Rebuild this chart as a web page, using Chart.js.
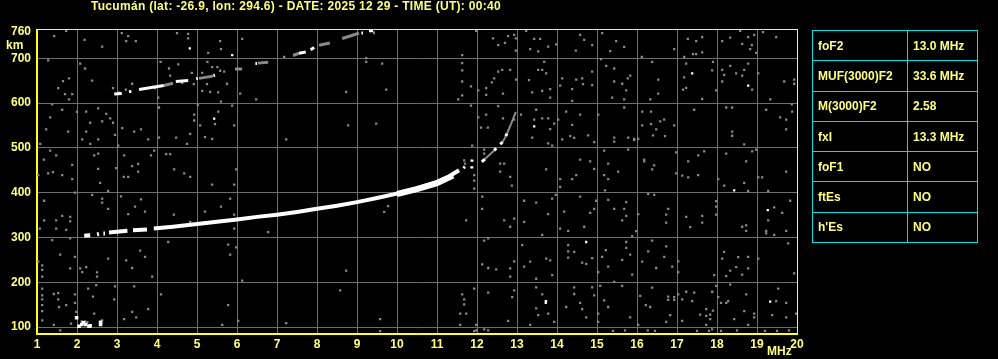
<!DOCTYPE html>
<html>
<head>
<meta charset="utf-8">
<script src="https://cdn.jsdelivr.net/npm/chart.js@4.4.1/dist/chart.umd.min.js"></script>
<style>
	html, body { margin: 0; padding: 0; background: #000; overflow: hidden; }
	#wrap { position: relative; width: 998px; height: 359px; }
	#chart { position: absolute; left: 0; top: 0; }
	.lbl { position: absolute; color: #ffff80; font: bold 12px "Liberation Sans", Arial, sans-serif; line-height: 14px; white-space: nowrap; }
	#title { left: 91px; top: -1px; letter-spacing: 0.3px; }
	#params { position: absolute; left: 812px; top: 30px; width: 166px; border-collapse: collapse; }
	#params td { border: 1px solid #00e0e8; height: 29.3px; padding: 0 0 0 5px; color: #ffff80; font: bold 12px "Liberation Sans", Arial, sans-serif; }
	#params td:first-child { width: 89px; }
</style>
</head>
<body>
<div id="wrap">
	<canvas id="chart" width="998" height="359"></canvas>
	<div class="lbl" id="title">Tucumán (lat: -26.9, lon: 294.6) - DATE: 2025 12 29 - TIME (UT): 00:40</div>
	<div class="lbl" style="left:6px; top:38px;">km</div>
	<div class="lbl" style="left:767px; top:344px;">MHz</div>
	<table id="params"></table>
</div>
<script>
// axis ticks
const freqTicks = [1, 2, 3, 4, 5, 6, 7, 8, 9, 10, 11, 12, 13, 14, 15, 16, 17, 18, 19, 20];
const heightTicks = [100, 200, 300, 400, 500, 600, 700, 760];

// scaled parameters box
const paramNames = ['foF2', 'MUF(3000)F2', 'M(3000)F2', 'fxI', 'foF1', 'ftEs', "h'Es"];
const paramValues = ['13.0 MHz', '33.6 MHz', '2.58', '13.3 MHz', 'NO', 'NO', 'NO'];

// F trace (first hop), [MHz, km], null = gap in the echo
const mainTrace = [
	[2.18, 304], [2.33, 305], null,
	[2.50, 307], [2.55, 308], null,
	[2.66, 309], [2.70, 309], null,
	[2.80, 311], [3.26, 315], null,
	[3.40, 316], [3.75, 318], null,
	[3.92, 320], [4.40, 324], [5.0, 330], [5.5, 335], [6.0, 340], [6.5, 346], [7.0, 351],
	[7.5, 357], [8.0, 364], [8.5, 371], [9.0, 379], [9.5, 388], [10.0, 398], [10.5, 410],
	[11.0, 424], [11.3, 436], [11.55, 450],
];
const mainTraceThick = [[10.0, 397], [10.5, 408], [11.0, 421], [11.4, 438]];

// steep part near foF2
const cuspWhite = [
	[11.66, 455], [11.70, 458], null,
	[11.87, 454], [11.87, 459], null,
	[11.87, 469], [11.88, 474], null,
	[12.12, 469], [12.20, 475], null,
	[12.43, 494], [12.48, 499], null,
	[12.58, 508], [12.64, 513], null,
	[12.72, 526], [12.75, 532],
];
const cuspGrey = [
	[12.20, 475], [12.43, 494], null,
	[12.64, 513], [12.72, 526], null,
	[12.75, 532], [12.85, 553], [12.97, 580],
];

// second hop trace
const upperWhite = [
	[2.93, 620], [3.12, 621], null,
	[3.30, 625], [3.36, 626], null,
	[3.55, 630], [4.17, 639], null,
	[4.47, 648], [4.78, 650], null,
	[4.98, 654], [5.02, 655], null,
	[5.41, 661], [5.45, 662], null,
	[6.46, 688], [6.50, 688], null,
	[7.55, 711], [7.72, 714], null,
	[7.84, 719], [7.93, 724], null,
	[9.11, 756], [9.15, 756], null,
	[9.30, 761], [9.40, 761],
];
const upperGrey = [
	[4.17, 639], [4.40, 644], null,
	[5.05, 655], [5.40, 660], null,
	[5.95, 676], [6.13, 676], null,
	[6.52, 689], [6.78, 691], null,
	[7.40, 706], [7.55, 711], null,
	[8.05, 729], [8.32, 734], null,
	[8.63, 744], [8.85, 750], [9.05, 756], null,
	[9.40, 757], [9.45, 757],
];

// low echo near 2 MHz
const eLayer = [[1.99, 121], [2.05, 102], [2.12, 106], [2.16, 110], [2.22, 106], [2.30, 102], [2.33, 103], [2.59, 106], [2.59, 111]];

// isolated strong dots
const whiteDots = [
	[4.82, 722], [5.43, 565], [5.88, 707], [13.43, 548], [14.73, 290], [17.38, 666],
	[18.78, 639], [18.43, 405], [19.27, 361], [19.33, 157], [13.72, 158], [13.72, 154],
];

// interference / noise
const noiseDots = [
	[1.43, 749], [1.73, 761], [2.19, 741], [2.63, 726], [3.12, 756], [3.28, 749], [3.23, 738], [3.47, 738],
	[4.50, 756], [4.78, 754], [4.78, 744], [5.28, 712], [5.58, 738], [5.60, 720], [1.28, 695], [1.65, 649],
	[1.80, 655], [1.53, 633], [1.70, 620], [1.88, 620], [1.80, 608], [2.08, 688], [2.20, 677], [2.38, 650],
	[2.90, 633], [3.38, 643], [3.22, 630], [3.05, 623], [4.09, 692], [4.30, 677], [4.53, 686], [4.33, 661],
	[4.63, 645], [4.87, 667], [5.13, 667], [5.26, 692], [5.38, 680], [5.51, 680], [5.58, 672], [5.68, 670],
	[5.25, 642], [4.92, 642], [5.13, 627], [5.33, 625], [5.53, 624], [5.60, 603], [3.95, 633], [4.03, 612],
	[1.38, 597], [1.33, 568], [1.63, 585], [1.23, 541], [1.78, 536], [2.00, 580], [2.23, 581], [2.53, 588],
	[2.33, 556], [2.63, 559], [2.73, 576], [2.83, 566], [2.90, 556], [2.95, 529], [2.23, 536], [2.13, 519],
	[2.33, 509], [2.53, 519], [3.13, 544], [3.43, 536], [3.60, 541], [3.78, 519], [4.05, 523], [4.05, 590],
	[4.48, 523], [4.75, 509], [4.83, 531], [4.93, 561], [4.93, 574], [5.02, 596], [5.08, 550], [5.20, 524],
	[5.38, 520], [5.45, 553], [5.53, 581], [1.08, 509], [3.03, 505], [1.33, 494], [1.48, 483], [1.17, 474],
	[1.88, 462], [1.28, 443], [1.40, 446], [1.63, 439], [1.88, 430], [2.43, 483], [2.53, 487], [2.53, 453],
	[2.58, 422], [2.78, 404], [2.98, 455], [3.18, 483], [3.38, 459], [3.53, 464], [3.53, 447], [3.17, 435],
	[3.28, 435], [3.85, 483], [3.93, 494], [4.23, 486], [4.33, 486], [4.43, 452], [4.68, 443], [4.83, 435],
	[5.38, 418], [1.03, 439], [1.18, 382], [1.18, 338], [1.48, 338], [1.48, 320], [1.63, 348], [1.73, 317],
	[1.83, 346], [1.83, 336], [1.07, 320], [1.95, 400], [2.38, 395], [2.63, 387], [2.63, 378], [2.78, 364],
	[3.10, 392], [3.28, 352], [3.45, 369], [3.60, 385], [3.70, 358], [4.42, 351], [4.83, 335], [5.20, 358],
	[5.60, 369], [1.38, 294], [1.58, 262], [1.83, 298], [1.95, 257], [1.03, 246], [1.13, 238], [1.13, 228],
	[1.13, 213], [1.83, 231], [2.08, 231], [2.23, 234], [2.13, 223], [2.50, 222], [2.50, 213], [2.78, 253],
	[3.23, 249], [3.38, 232], [3.58, 271], [3.70, 257], [3.88, 213], [4.28, 290], [2.95, 191], [1.13, 186],
	[1.13, 171], [1.13, 162], [1.13, 149], [1.13, 136], [1.13, 115], [1.42, 174], [1.53, 176], [1.53, 162],
	[1.55, 145], [1.73, 149], [1.95, 173], [1.95, 154], [1.98, 134], [2.28, 186], [2.40, 168], [2.48, 194],
	[2.43, 130], [2.93, 162], [3.43, 191], [3.38, 134], [3.48, 122], [3.78, 140], [4.10, 173], [3.18, 118],
	[1.85, 108], [2.63, 115], [1.42, 105], [1.58, 93], [5.63, 105], [2.12, 113], [2.20, 113], [2.26, 111],
	[6.13, 743], [7.18, 703], [9.23, 700], [9.23, 692], [9.63, 688], [5.75, 643], [6.08, 621], [6.48, 608],
	[8.73, 625], [9.73, 630], [5.88, 594], [5.93, 550], [7.23, 519], [8.78, 550], [9.48, 554], [5.98, 452],
	[5.93, 418], [5.83, 387], [5.93, 351], [5.93, 320], [6.78, 312], [9.68, 357], [9.78, 370], [5.78, 284],
	[5.83, 262], [5.98, 278], [6.13, 204], [8.73, 226], [8.58, 182], [5.78, 149], [6.03, 114], [7.23, 109],
	[9.58, 118], [9.58, 91],
	[11.98, 761], [12.40, 744], [12.70, 734], [12.78, 749], [12.93, 752], [12.97, 744], [12.97, 717], [12.53, 729],
	[13.23, 761], [13.43, 743], [13.58, 743], [13.33, 720], [13.53, 715], [13.78, 726], [13.98, 731], [14.47, 717],
	[14.58, 752], [14.68, 741], [14.88, 729], [15.13, 756], [11.63, 707], [11.63, 689], [11.63, 673], [11.63, 648],
	[11.63, 617], [11.53, 608], [11.85, 637], [12.03, 628], [12.23, 633], [12.23, 618], [12.37, 646], [12.43, 655],
	[12.53, 670], [12.63, 674], [12.83, 674], [12.65, 621], [12.98, 652], [13.30, 651], [13.38, 624], [13.53, 674],
	[13.63, 674], [13.73, 666], [13.68, 692], [13.63, 627], [13.83, 631], [13.83, 612], [14.13, 655], [14.08, 639],
	[14.38, 631], [14.48, 652], [14.63, 655], [14.65, 642], [14.88, 640], [14.88, 670], [15.10, 698], [14.38, 605],
	[11.85, 594], [12.03, 568], [12.23, 574], [12.10, 545], [12.27, 545], [12.53, 593], [12.65, 566], [12.93, 563],
	[13.10, 574], [13.43, 563], [13.48, 585], [13.63, 566], [13.78, 566], [13.83, 542], [13.93, 554], [13.38, 523],
	[13.78, 510], [13.88, 505], [14.03, 563], [14.13, 519], [14.33, 526], [14.43, 522], [14.38, 551], [14.23, 581],
	[14.58, 574], [14.78, 528], [14.93, 513], [15.03, 574], [11.88, 505], [12.18, 496], [12.18, 487], [12.58, 465],
	[12.68, 465], [12.58, 447], [12.83, 435], [12.87, 416], [13.73, 452], [14.08, 430], [14.08, 413], [14.38, 430],
	[14.48, 439], [14.58, 474], [14.83, 470], [14.93, 453], [15.18, 494], [15.18, 439], [15.20, 405], [11.93, 439],
	[11.93, 427], [11.93, 409], [12.13, 391], [12.13, 364], [11.73, 338], [12.68, 338], [12.93, 342], [12.83, 324],
	[13.18, 382], [13.48, 378], [13.18, 335], [13.63, 306], [13.78, 352], [13.88, 387], [13.97, 395], [14.18, 358],
	[14.08, 320], [14.28, 315], [14.58, 391], [14.68, 324], [14.83, 355], [14.93, 364], [14.98, 382], [12.18, 293],
	[12.28, 298], [12.13, 240], [12.28, 232], [12.48, 229], [12.83, 231], [12.83, 213], [12.93, 247], [13.13, 283],
	[13.18, 235], [13.33, 246], [13.48, 208], [13.73, 253], [13.83, 249], [13.88, 216], [14.28, 283], [14.28, 269],
	[14.28, 255], [14.43, 268], [14.63, 244], [14.73, 241], [14.88, 254], [15.13, 257], [15.03, 223], [11.93, 186],
	[12.28, 177], [11.63, 173], [11.68, 162], [11.68, 151], [11.58, 130], [11.73, 130], [11.58, 105], [11.98, 105],
	[11.98, 93], [12.93, 182], [12.88, 167], [13.48, 189], [13.63, 173], [13.73, 158], [13.48, 142], [13.53, 127],
	[13.78, 130], [13.93, 112], [13.33, 105], [12.78, 114], [14.23, 145], [14.43, 189], [14.43, 174], [14.58, 154],
	[14.63, 140], [14.73, 122], [14.93, 171], [15.03, 130], [15.03, 112], [14.88, 189], [15.08, 192], [15.18, 160],
	[12.28, 93], [11.93, 91], [12.18, 95], [11.68, 472], [11.70, 465],
	[15.33, 716], [15.48, 738], [15.68, 725], [16.12, 703], [16.93, 720], [17.18, 703], [17.27, 743], [17.48, 738],
	[17.63, 747], [17.40, 709], [17.48, 709], [17.63, 713], [18.13, 738], [18.33, 746], [18.58, 761], [18.63, 732],
	[18.78, 747], [18.87, 729], [18.83, 720], [18.93, 752], [18.98, 712], [19.15, 758], [19.48, 747], [15.43, 677],
	[15.23, 683], [15.43, 648], [15.63, 643], [15.73, 628], [15.77, 655], [15.83, 661], [15.38, 612], [15.68, 608],
	[16.38, 692], [16.53, 652], [16.53, 621], [16.33, 608], [17.23, 688], [17.18, 657], [17.23, 634], [17.15, 630],
	[17.63, 609], [17.90, 692], [17.88, 673], [17.98, 628], [18.13, 674], [18.18, 663], [18.13, 648], [18.33, 683],
	[18.48, 666], [18.63, 661], [18.68, 674], [18.78, 688], [18.88, 630], [19.03, 666], [19.33, 608], [19.68, 648],
	[19.93, 652], [19.93, 643], [15.68, 590], [16.13, 581], [16.35, 581], [16.58, 559], [16.68, 563], [16.13, 550],
	[16.35, 553], [16.48, 541], [16.40, 528], [16.70, 526], [16.93, 550], [15.43, 523], [15.43, 514], [15.78, 523],
	[15.93, 520], [15.93, 517], [16.03, 520], [17.43, 585], [18.23, 590], [18.38, 590], [18.38, 536], [18.38, 527],
	[18.68, 508], [19.23, 585], [19.73, 563], [19.88, 581], [19.58, 568], [19.73, 541], [19.87, 597], [15.78, 496],
	[15.28, 465], [15.53, 447], [15.28, 430], [16.18, 474], [16.18, 470], [16.43, 461], [16.38, 452], [16.98, 490],
	[16.98, 443], [17.28, 470], [17.13, 438], [17.28, 434], [17.53, 439], [17.53, 483], [17.68, 492], [18.23, 487],
	[18.03, 430], [18.18, 416], [18.68, 422], [18.78, 404], [18.73, 470], [18.88, 492], [18.98, 496], [19.13, 434],
	[19.03, 434], [19.28, 404], [19.73, 447], [15.28, 384], [15.73, 379], [15.43, 364], [15.68, 364], [15.73, 348],
	[15.63, 338], [16.03, 352], [16.28, 397], [16.43, 395], [16.78, 364], [16.73, 351], [16.73, 333], [15.98, 314],
	[15.88, 303], [17.33, 323], [17.23, 346], [17.63, 348], [17.63, 333], [17.98, 381], [17.98, 369], [17.98, 351],
	[18.63, 324], [18.73, 327], [18.73, 315], [19.43, 367], [19.63, 355], [19.28, 338], [19.23, 315], [19.23, 309],
	[19.43, 306], [19.73, 315], [19.83, 382], [15.22, 272], [15.73, 290], [15.73, 277], [15.83, 262], [15.63, 250],
	[15.28, 235], [15.88, 217], [16.38, 293], [16.28, 269], [16.13, 246], [16.73, 280], [16.68, 257], [16.48, 232],
	[16.88, 235], [17.03, 247], [17.03, 223], [18.18, 268], [18.13, 253], [18.23, 214], [18.33, 226], [18.53, 256],
	[18.48, 234], [18.78, 257], [18.63, 217], [18.78, 231], [19.03, 253], [19.78, 287], [19.93, 220], [17.93, 216],
	[15.43, 201], [15.63, 192], [15.28, 145], [15.83, 122], [16.03, 105], [16.08, 170], [16.38, 188], [16.22, 149],
	[16.33, 145], [16.78, 168], [16.78, 161], [16.83, 127], [16.73, 112], [17.03, 173], [16.93, 167], [16.93, 161],
	[17.13, 162], [17.13, 114], [17.23, 179], [17.38, 158], [17.43, 177], [17.58, 128], [17.73, 140], [17.83, 128],
	[17.83, 118], [17.90, 137], [17.73, 125], [17.73, 105], [17.88, 179], [17.98, 192], [18.03, 167], [18.10, 154],
	[18.28, 158], [18.33, 195], [18.23, 154], [18.43, 118], [18.73, 173], [18.68, 136], [18.78, 105], [18.93, 130],
	[18.93, 122], [19.48, 158], [19.53, 186], [19.38, 127], [19.73, 122], [19.98, 130], [19.73, 154],
	[16.27, 93], [16.45, 92], [17.50, 92], [17.80, 92], [17.88, 95], [18.10, 92], [18.50, 93], [19.20, 92],
	[19.50, 92], [19.80, 93], [15.40, 92], [15.70, 93],
];

const YELLOW_AXIS = '#ffff20';
const YELLOW_TEXT = '#ffff80';
const GRID_GREY = '#6e6e6e';
const NOISE_GREY = '#8a8a8a';

function toPoints(list)
{
	return list.map(p => (p ? {x: p[0], y: p[1]} : {x: NaN, y: NaN}));
}

function traceDataset(list, color, width, order)
{
	return {
		data: toPoints(list),
		showLine: true,
		spanGaps: false,
		borderColor: color,
		borderWidth: width,
		borderCapStyle: 'butt',
		pointRadius: 0,
		tension: 0,
		order: order,
	};
}

function dotDataset(list, color, radius, order)
{
	return {
		data: toPoints(list),
		showLine: false,
		pointStyle: 'rect',
		pointRadius: radius,
		pointBorderWidth: 0,
		pointBackgroundColor: color,
		pointBorderColor: color,
		order: order,
	};
}

// frame on the top and right side of the plot
const framePlugin = {
	id: 'frame',
	afterDraw(chart)
	{
		const a = chart.chartArea;
		const ctx = chart.ctx;
		ctx.save();
		ctx.strokeStyle = YELLOW_AXIS;
		ctx.lineWidth = 1;
		ctx.strokeRect(Math.round(a.left) - 0.5, Math.round(a.top) - 0.5, Math.round(a.right - a.left) + 1, Math.round(a.bottom - a.top) + 1);
		ctx.restore();
	}
};

const tickFont = {family: '"Liberation Sans", Arial, sans-serif', size: 12, weight: 'bold'};

new Chart(document.getElementById('chart'), {
	type: 'scatter',
	data: {
		datasets: [
			traceDataset(mainTrace, '#ffffff', 4, 1),
			traceDataset(mainTraceThick, '#ffffff', 6, 2),
			traceDataset(cuspWhite, '#ffffff', 3, 1),
			traceDataset(cuspGrey, NOISE_GREY, 2, 3),
			traceDataset(upperWhite, '#ffffff', 3, 1),
			traceDataset(upperGrey, NOISE_GREY, 3, 3),
			dotDataset(eLayer, '#ffffff', 2.5, 1),
			dotDataset(whiteDots, '#ffffff', 1.6, 1),
			dotDataset(noiseDots, NOISE_GREY, 1.6, 5),
		]
	},
	options: {
		responsive: false,
		animation: false,
		devicePixelRatio: 1,
		layout: {padding: {top: 29.5, right: 201, left: 0, bottom: 0}},
		plugins: {legend: {display: false}, tooltip: {enabled: false}},
		scales: {
			x: {
				type: 'linear',
				min: 1,
				max: 20,
				afterBuildTicks: scale => { scale.ticks = freqTicks.map(v => ({value: v})); },
				afterFit: scale => { scale.height = 26; },
				grid: {color: GRID_GREY, lineWidth: 1, drawTicks: false},
				border: {color: YELLOW_AXIS, width: 1},
				ticks: {color: YELLOW_TEXT, font: tickFont, padding: 4, maxRotation: 0, autoSkip: false},
			},
			y: {
				type: 'linear',
				min: 87,
				max: 764,
				afterBuildTicks: scale => { scale.ticks = heightTicks.map(v => ({value: v})); },
				afterFit: scale => { scale.width = 37; },
				grid: {
					color: ctx => (ctx.tick && ctx.tick.value === 760 ? 'rgba(0,0,0,0)' : GRID_GREY),
					lineWidth: 1,
					drawTicks: false
				},
				border: {color: YELLOW_AXIS, width: 1},
				ticks: {color: YELLOW_TEXT, font: tickFont, padding: 6, autoSkip: false},
			}
		}
	},
	plugins: [framePlugin]
});

// parameters table
const table = document.getElementById('params');
paramNames.forEach((name, i) => {
	const row = table.insertRow();
	row.insertCell().textContent = name;
	row.insertCell().textContent = paramValues[i];
});
</script>
</body>
</html>
